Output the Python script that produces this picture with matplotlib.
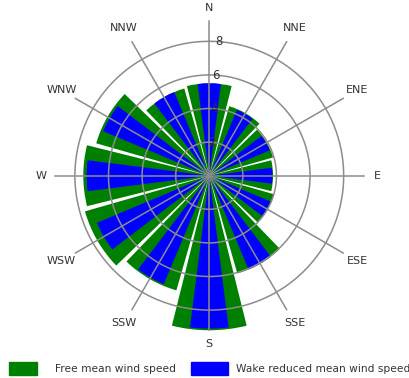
import numpy as np
import matplotlib
matplotlib.use("Agg")
import matplotlib.pyplot as plt
from matplotlib.patches import Rectangle

# ---- data ----
directions = ['N', 'NNE', 'ENE', 'E', 'ESE', 'SSE', 'S', 'SSW', 'WSW', 'W', 'WNW', 'NNW']
sector_deg = [0, 30, 60, 90, 120, 150, 180, 210, 240, 270, 300, 330]
free_speed = [5.5, 4.3, 3.95, 3.8, 4.0, 6.05, 9.2, 7.1, 7.7, 7.5, 7.0, 5.4]
wake_speed = [5.5, 4.25, 3.9, 3.75, 3.95, 6.05, 9.1, 7.0, 7.25, 7.3, 6.85, 5.4]
ring_values = [2, 4, 6, 8]
legend_labels = ['Free mean wind speed', 'Wake reduced mean wind speed']

GREEN = '#008000'
BLUE = '#0000ff'
GRID = '#8c8c8c'
TXT = '#333333'

fig = plt.figure(figsize=(4.10, 3.78), dpi=100)
rmax = 10.5
ax = fig.add_axes([0.0802, 0.0685, 0.8605, 0.9333], projection='polar')
ax.set_theta_zero_location('N')
ax.set_theta_direction(-1)
ax.set_ylim(0, rmax)
ax.grid(False)
ax.set_xticks([])
ax.set_yticks([])
ax.spines['polar'].set_visible(False)
ax.patch.set_alpha(0)

theta = np.deg2rad(sector_deg)
ax.bar(theta, free_speed, width=np.deg2rad(28), color=GREEN, edgecolor='none', zorder=2)
ax.bar(theta, wake_speed, width=np.deg2rad(14.5), color=BLUE, edgecolor='none', zorder=3)

# rings
tt = np.linspace(0, 2 * np.pi, 400)
for r in ring_values:
    ax.plot(tt, np.full_like(tt, r), color=GRID, lw=1.1, zorder=4)
    ax.text(np.deg2rad(4.0), r, str(r), ha='center', va='center', fontsize=8.5,
            color=TXT, zorder=6)

# spokes and direction labels
spoke_len = 9.2
for th, name in zip(theta, directions):
    ax.plot([th, th], [0, spoke_len], color=GRID, lw=1.1, zorder=4)
    rl = 10.0 if name in ('N', 'S', 'E', 'W') else 10.15
    ax.text(th, rl, name, ha='center', va='center', fontsize=8, color=TXT, zorder=6)

# legend (manual, figure coordinates)
W, H = 410.0, 378.0
fig.add_artist(Rectangle((9 / W, (H - 375) / H), 28 / W, 13 / H, color=GREEN,
                         transform=fig.transFigure))
fig.text(55 / W, (H - 368.5) / H, legend_labels[0], fontsize=7.7, color=TXT,
         ha='left', va='center')
fig.add_artist(Rectangle((191 / W, (H - 375) / H), 37 / W, 13 / H, color=BLUE,
                         transform=fig.transFigure))
fig.text(236 / W, (H - 368.5) / H, legend_labels[1], fontsize=7.7, color=TXT,
         ha='left', va='center')

fig.savefig('out.png', dpi=100)
